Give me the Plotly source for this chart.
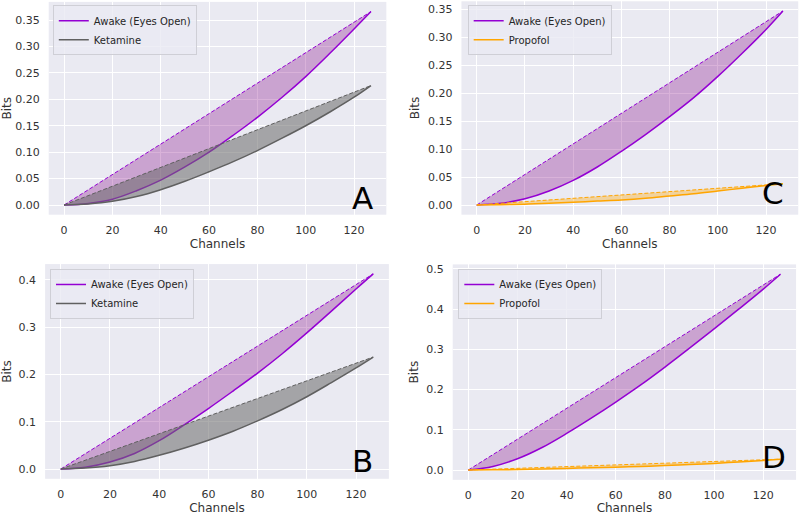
import plotly.graph_objects as go

# ---- data ----
channels = [0, 10, 20, 30, 40, 50, 60, 70, 80, 90, 100, 110, 120, 127]

a_awake    = [0, 0.003, 0.011, 0.027, 0.047, 0.072, 0.100, 0.132, 0.166, 0.203, 0.243, 0.287, 0.333, 0.366]
a_ketamine = [0, 0.002, 0.007, 0.016, 0.029, 0.045, 0.063, 0.082, 0.103, 0.126, 0.150, 0.176, 0.204, 0.226]

b_awake    = [0, 0.004, 0.015, 0.033, 0.060, 0.093, 0.128, 0.165, 0.203, 0.244, 0.288, 0.334, 0.381, 0.413]
b_ketamine = [0, 0.002, 0.007, 0.016, 0.029, 0.044, 0.061, 0.080, 0.102, 0.126, 0.153, 0.183, 0.214, 0.237]

c_awake    = [0, 0.003, 0.011, 0.025, 0.044, 0.068, 0.096, 0.126, 0.158, 0.192, 0.230, 0.271, 0.314, 0.347]
c_propofol = [0, 0.0005, 0.0015, 0.003, 0.005, 0.007, 0.009, 0.012, 0.016, 0.020, 0.025, 0.030, 0.035, 0.038]

d_awake    = [0, 0.009, 0.028, 0.056, 0.091, 0.129, 0.169, 0.211, 0.256, 0.303, 0.351, 0.400, 0.450, 0.487]
d_propofol = [0, 0.0004, 0.0012, 0.0025, 0.004, 0.0055, 0.007, 0.009, 0.011, 0.0135, 0.0165, 0.020, 0.024, 0.027]

chord_x = [0, 127]
x_ticks = [0, 20, 40, 60, 80, 100, 120]
yticks_ac = [0.00, 0.05, 0.10, 0.15, 0.20, 0.25, 0.30, 0.35]
yticks_bd = [0.0, 0.1, 0.2, 0.3, 0.4, 0.5]

awake_name = "Awake (Eyes Open)"

PURPLE = "#9400D3"
PURPLE_FILL = "rgba(128,0,128,0.30)"
GRAY = "#606060"
GRAY_FILL = "rgba(105,105,105,0.55)"
ORANGE = "#FFA500"
ORANGE_FILL = "rgba(255,165,0,0.35)"

panels = [
    dict(ax="", awake=a_awake, other=a_ketamine, oname="Ketamine",
         oc=GRAY, of=GRAY_FILL, legend="legend", letter="A",
         xdom=[0.0609, 0.4829], ydom=[0.5831, 0.9963], yticks=yticks_ac, fmt=".2f",
         leg=(0.066, 0.990), lpos=(0.4525, 0.6165)),
    dict(ax="2", awake=c_awake, other=c_propofol, oname="Propofol",
         oc=ORANGE, of=ORANGE_FILL, legend="legend2", letter="C",
         xdom=[0.5768, 0.9978], ydom=[0.5831, 0.9975], yticks=yticks_ac, fmt=".2f",
         leg=(0.5846, 0.990), lpos=(0.966, 0.6250)),
    dict(ax="3", awake=b_awake, other=b_ketamine, oname="Ketamine",
         oc=GRAY, of=GRAY_FILL, legend="legend3", letter="B",
         xdom=[0.0564, 0.4861], ydom=[0.0703, 0.4872], yticks=yticks_bd, fmt=".1f",
         leg=(0.0625, 0.4777), lpos=(0.4531, 0.1040)),
    dict(ax="4", awake=d_awake, other=d_propofol, oname="Propofol",
         oc=ORANGE, of=ORANGE_FILL, legend="legend4", letter="D",
         xdom=[0.5659, 0.9951], ydom=[0.0683, 0.4866], yticks=yticks_bd, fmt=".1f",
         leg=(0.5729, 0.4777), lpos=(0.9675, 0.1125)),
]

FONT = "DejaVu Sans"
TXT = "#333333"

fig = go.Figure()
layout = dict(
    width=800, height=515,
    margin=dict(l=0, r=0, t=0, b=0),
    paper_bgcolor="white",
    font=dict(family=FONT, color=TXT, size=11),
    annotations=[],
)

for p in panels:
    xa = "x" + p["ax"]
    ya = "y" + p["ax"]
    for vals, name, lc, fc in [(p["awake"], awake_name, PURPLE, PURPLE_FILL),
                               (p["other"], p["oname"], p["oc"], p["of"])]:
        fig.add_trace(go.Scatter(
            x=channels, y=vals, mode="lines", name=name,
            line=dict(color=lc, width=1.5, shape="spline", smoothing=1.0),
            xaxis=xa, yaxis=ya, legend=p["legend"], showlegend=True,
            hoverinfo="skip"))
        fig.add_trace(go.Scatter(
            x=chord_x, y=[0, vals[-1]], mode="lines", name=name,
            line=dict(color=lc, width=1, dash="4px,2px"),
            fill="tonexty", fillcolor=fc,
            xaxis=xa, yaxis=ya, showlegend=False, hoverinfo="skip"))

    ymax = max(p["awake"][-1], p["other"][-1])
    xk = "xaxis" + p["ax"]
    yk = "yaxis" + p["ax"]
    layout[xk] = dict(
        domain=p["xdom"], anchor=ya, range=[-6.35, 133.35],
        tickvals=x_ticks, ticks="", ticklabelstandoff=7,
        showgrid=True, gridcolor="white", gridwidth=1, zeroline=False,
        showline=False, automargin=False,
        tickfont=dict(size=11, color=TXT),
        title=dict(text="Channels", font=dict(size=12, color=TXT), standoff=3),
    )
    layout[yk] = dict(
        domain=p["ydom"], anchor=xa, range=[-0.05 * ymax, 1.05 * ymax],
        tickvals=p["yticks"], tickformat=p["fmt"], ticks="", ticklabelstandoff=8,
        showgrid=True, gridcolor="white", gridwidth=1, zeroline=False,
        showline=False, automargin=False,
        tickfont=dict(size=11, color=TXT),
        title=dict(text="Bits", font=dict(size=12, color=TXT), standoff=5),
    )
    layout[p["legend"]] = dict(
        x=p["leg"][0], y=p["leg"][1], xanchor="left", yanchor="top",
        bgcolor="rgba(234,234,242,0.8)", bordercolor="#cfcfd6", borderwidth=1,
        font=dict(size=10, color="#262626", family=FONT),
        traceorder="normal", tracegroupgap=0, itemwidth=30,
    )
    layout["annotations"].append(dict(
        text=p["letter"], x=p["lpos"][0], y=p["lpos"][1], xref="paper", yref="paper",
        xanchor="center", yanchor="middle", showarrow=False,
        font=dict(size=31, color="black", family=FONT)))

layout["plot_bgcolor"] = "#EAEAF2"
fig.update_layout(**layout)
fig.write_html("out.html", config={"displayModeBar": False},
               post_script="document.body.style.margin='0';")
